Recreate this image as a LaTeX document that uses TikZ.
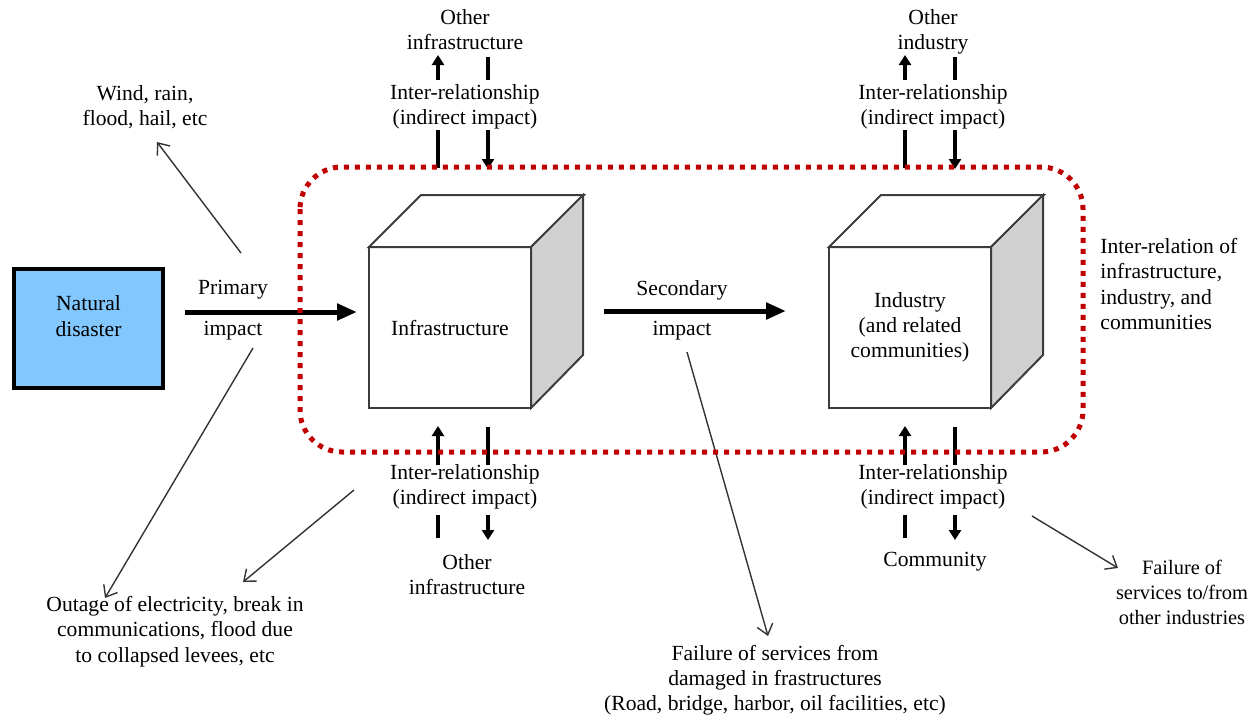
\documentclass[tikz,border=0pt]{standalone}
\usepackage{fontspec}
\setmainfont{Liberation Serif}
\usetikzlibrary{arrows.meta}
\definecolor{dred}{RGB}{192,0,0}
\definecolor{skyb}{RGB}{130,200,255}
\definecolor{sidegray}{RGB}{208,208,208}
\definecolor{edge}{RGB}{60,60,60}
\begin{document}
\begin{tikzpicture}[x=0.5pt,y=-0.5pt,
  lbl/.style={align=center,font=\fontsize{10.8}{12.6}\selectfont,inner sep=0pt},
  face/.style={draw=edge,line width=1pt,fill=white,minimum width=81pt,minimum height=80.5pt,
    inner sep=0pt,outer sep=0pt,align=center,font=\fontsize{10.8}{12.6}\selectfont},
  cubeline/.style={draw=edge,line width=1pt,line join=miter},
  bigarrow/.style={line width=2.5pt,-{Triangle[length=10pt,width=8pt]}},
  thinarrow/.style={draw=black!80,line width=0.7pt,-{Straight Barb[length=5pt,width=8pt]}},
  relarrow/.style={line width=1.8pt,-{Triangle[length=5pt,width=6pt]}},
  relbar/.style={line width=1.8pt},
  zone/.style={draw=dred,line width=2.5pt,dash pattern=on 2.5pt off 3pt,rounded corners=21pt}
]
\useasboundingbox (0,0) rectangle (1251,719);

% Natural disaster
\node[draw,line width=2pt,fill=skyb,minimum width=74.5pt,minimum height=59.5pt] (nd) at (88.5,328.5) {};
\node[lbl] (ndt) at (88.5,316) {Natural\\disaster};

% Cubes
\node[face] (infra) at (450,327.5) {Infrastructure};
\draw[cubeline,fill=white] (infra.north west) -- ++(52,-52) -- ++(163,0) -- (infra.north east) -- cycle;
\draw[cubeline,fill=sidegray] (infra.north east) -- ++(52,-52) -- ++(0,160) -- (infra.south east) -- cycle;

\node[face] (ind) at (910,327.5) {Industry\\(and related\\communities)};
\draw[cubeline,fill=white] (ind.north west) -- ++(52,-52) -- ++(163,0) -- (ind.north east) -- cycle;
\draw[cubeline,fill=sidegray] (ind.north east) -- ++(52,-52) -- ++(0,160) -- (ind.south east) -- cycle;

% Labels
\node[lbl] (oinfT) at (465,30) {Other\\infrastructure};
\node[lbl] (irT1) at (465,106.5) {Inter-relationship\\(indirect impact)};
\node[lbl] (oindT) at (933,32) {Other\\industry};
\node[lbl] (irT2) at (933,106.5) {Inter-relationship\\(indirect impact)};
\node[lbl] (wind) at (145,107.5) {Wind, rain,\\flood, hail, etc};
\node[lbl] (prim) at (233,290) {Primary};
\node[lbl] (primb) at (233,331) {impact};
\node[lbl] (sec) at (682,290) {Secondary};
\node[lbl] (secb) at (682,331) {impact};
\node[lbl] (irB1) at (465,486.5) {Inter-relationship\\(indirect impact)};
\node[lbl] (oinfB) at (467,574.5) {Other\\infrastructure};
\node[lbl] (irB2) at (933,486.5) {Inter-relationship\\(indirect impact)};
\node[lbl] (comm) at (935,562) {Community};
\node[lbl] (outage) at (175,631.5) {Outage of electricity, break in\\communications, flood due\\to collapsed levees, etc};
\node[lbl] (fserv) at (775,680) {Failure of services from\\damaged in frastructures\\(Road, bridge, harbor, oil facilities, etc)};
\node[lbl,font=\fontsize{10.2}{12.6}\selectfont] (find) at (1182,592.5) {Failure of\\services to/from\\other industries};
\node[lbl,align=left,anchor=west] (irel) at (1100,284) {Inter-relation of\\infrastructure,\\industry, and\\communities};

% Coordinates for connectors
\coordinate (pA) at (185,312);   \coordinate (pB) at (357,312);
\coordinate (sA) at (604,311);   \coordinate (sB) at (786,311);
\coordinate (w1) at (241,253);   \coordinate (w2) at (157,142);
\coordinate (o1) at (253,348);   \coordinate (o2) at (105,598);
\coordinate (o3) at (354,490);   \coordinate (o4) at (243,582);
\coordinate (f1) at (687,352);   \coordinate (f2) at (768,636);
\coordinate (g1) at (1032,516);  \coordinate (g2) at (1118,568);

% Main arrows
\draw[bigarrow] (pA) -- (pB);
\draw[bigarrow] (sA) -- (sB);

% Thin arrows
\draw[thinarrow] (w1) -- (w2);
\draw[thinarrow] (o1) -- (o2);
\draw[thinarrow] (o3) -- (o4);
\draw[thinarrow] (f1) -- (f2);
\draw[thinarrow] (g1) -- (g2);

% Inter-relationship arrows (infrastructure, top)
\coordinate (a1) at (438,80);  \coordinate (a2) at (438,55);
\coordinate (a3) at (488,57);  \coordinate (a4) at (488,80);
\coordinate (a5) at (438,168); \coordinate (a6) at (438,130);
\coordinate (a7) at (488,130); \coordinate (a8) at (488,169);
\draw[relarrow] (a1) -- (a2);
\draw[relbar] (a3) -- (a4);
\draw[relbar] (a5) -- (a6);
\draw[relarrow] (a7) -- (a8);
% (industry, top)
\coordinate (b1) at (905,80);  \coordinate (b2) at (905,55);
\coordinate (b3) at (955,57);  \coordinate (b4) at (955,80);
\coordinate (b5) at (905,168); \coordinate (b6) at (905,130);
\coordinate (b7) at (955,130); \coordinate (b8) at (955,169);
\draw[relarrow] (b1) -- (b2);
\draw[relbar] (b3) -- (b4);
\draw[relbar] (b5) -- (b6);
\draw[relarrow] (b7) -- (b8);
% (infrastructure, bottom)
\coordinate (c1) at (438,465); \coordinate (c2) at (438,426);
\coordinate (c3) at (488,427); \coordinate (c4) at (488,465);
\coordinate (c5) at (438,515); \coordinate (c6) at (438,538);
\coordinate (c7) at (488,515); \coordinate (c8) at (488,540);
\draw[relarrow] (c1) -- (c2);
\draw[relbar] (c3) -- (c4);
\draw[relbar] (c5) -- (c6);
\draw[relarrow] (c7) -- (c8);
% (industry, bottom)
\coordinate (d1) at (905,465); \coordinate (d2) at (905,426);
\coordinate (d3) at (955,427); \coordinate (d4) at (955,465);
\coordinate (d5) at (905,515); \coordinate (d6) at (905,538);
\coordinate (d7) at (955,515); \coordinate (d8) at (955,540);
\draw[relarrow] (d1) -- (d2);
\draw[relbar] (d3) -- (d4);
\draw[relbar] (d5) -- (d6);
\draw[relarrow] (d7) -- (d8);

% Red dotted zone
\draw[zone] (300,167) rectangle (1083,452);
\end{tikzpicture}
\end{document}
